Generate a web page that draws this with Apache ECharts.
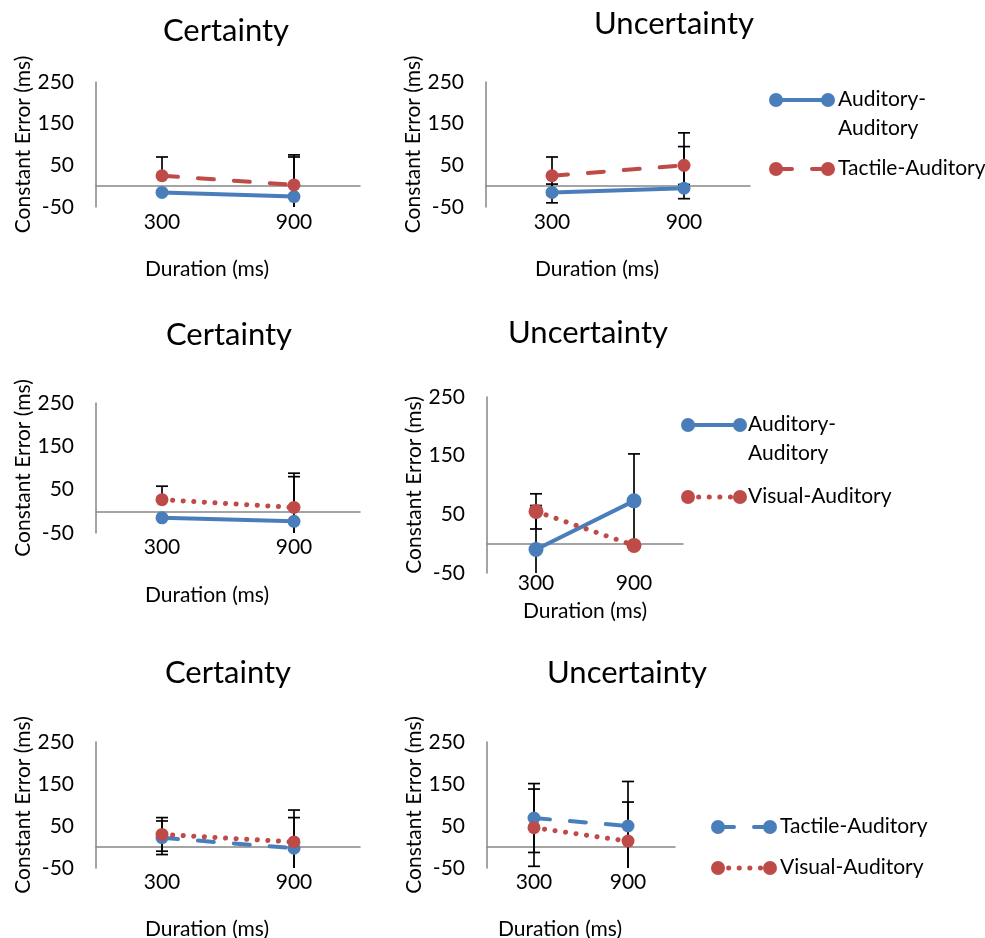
<!DOCTYPE html>
<html>
<head>
<meta charset="utf-8">
<script src="https://cdn.jsdelivr.net/npm/echarts@6/dist/echarts.min.js"></script>
<style>
  html, body { margin: 0; padding: 0; background: #fff; }
  #chart { width: 985px; height: 938px; }
</style>
</head>
<body>
<div id="chart"></div>
<script>
// Durées testées (catégories) et graduations de l'axe Y
const durations = ['300', '900'];
const yTickLabels = [-50, 50, 150, 250];

// Ligne 1 : Auditory-Auditory / Tactile-Auditory
const cert1AA = [-15, -25];
const cert1AAErr = [[-15, -15], [-125, 75]];
const cert1TA = [25, 3];
const cert1TAErr = [[25, 70], [-70, 70]];
const unc1AA = [-15, -5];
const unc1AAErr = [[-40, 5], [-30, 95]];
const unc1TA = [25, 50];
const unc1TAErr = [[-20, 70], [4, 128]];

// Ligne 2 : Auditory-Auditory / Visual-Auditory
const cert2AA = [-15, -23];
const cert2AAErr = [[-15, -15], [-120, 80]];
const cert2VA = [27, 9];
const cert2VAErr = [[27, 58], [-70, 88]];
const unc2AA = [-10, 73];
const unc2AAErr = [[-85, 65], [-7, 153]];
const unc2VA = [55, -3];
const unc2VAErr = [[25, 85], [-3, -3]];

// Ligne 3 : Tactile-Auditory / Visual-Auditory
const cert3TA = [22, -3];
const cert3TAErr = [[-18, 62], [-76, 70]];
const cert3VA = [30, 12];
const cert3VAErr = [[-10, 70], [-64, 88]];
const unc3TA = [69, 50];
const unc3TAErr = [[-13, 151], [-56, 156]];
const unc3VA = [46, 14];
const unc3VAErr = [[-46, 138], [-79, 107]];

const FONT = 'Lato';
const BLUE = '#4a7ebb';
const RED = '#be4b48';
const AXIS = '#868686';

// styles de trait
const solid = { type: 'solid', cap: 'round', width: 4 };
const dashed = { type: [16, 20], cap: 'round', width: 4 };
const dotted = { type: [0.1, 10.5], cap: 'round', width: 5 };

const panels = [
  { title: 'Certainty', tx: 226, ty: 31, grid: { left: 96, top: 82, width: 264, height: 125 }, nameShift: -21, nameGap: 52, labelMargin: 5,
    series: [
      { name: 'Auditory-Auditory', color: BLUE, line: solid, mean: cert1AA, err: cert1AAErr },
      { name: 'Tactile-Auditory', color: RED, line: dashed, mean: cert1TA, err: cert1TAErr }] },
  { title: 'Uncertainty', tx: 674, ty: 24, grid: { left: 486, top: 82, width: 264, height: 125 }, nameShift: -21, nameGap: 52, labelMargin: 5,
    legend: { x: 776, y: [100, 169], textX: 838, labels: ['Auditory-\nAuditory', 'Tactile-Auditory'] },
    series: [
      { name: 'Auditory-Auditory', color: BLUE, line: solid, mean: unc1AA, err: unc1AAErr },
      { name: 'Tactile-Auditory', color: RED, line: dashed, mean: unc1TA, err: unc1TAErr }] },
  { title: 'Certainty', tx: 229, ty: 335, grid: { left: 96, top: 403, width: 264, height: 130 }, nameShift: -21, nameGap: 52, labelMargin: 4,
    series: [
      { name: 'Auditory-Auditory', color: BLUE, line: solid, mean: cert2AA, err: cert2AAErr },
      { name: 'Visual-Auditory', color: RED, line: dotted, mean: cert2VA, err: cert2VAErr }] },
  { title: 'Uncertainty', tx: 588, ty: 333, grid: { left: 487, top: 397, width: 196, height: 176 }, nameShift: 0, nameGap: 28, labelMargin: 0,
    legend: { x: 688, y: [425, 497], textX: 748, labels: ['Auditory-\nAuditory', 'Visual-Auditory'] },
    series: [
      { name: 'Auditory-Auditory', color: BLUE, line: solid, mean: unc2AA, err: unc2AAErr },
      { name: 'Visual-Auditory', color: RED, line: dotted, mean: unc2VA, err: unc2VAErr }] },
  { title: 'Certainty', tx: 228, ty: 673, grid: { left: 96, top: 742, width: 264, height: 126 }, nameShift: -21, nameGap: 51, labelMargin: 4,
    series: [
      { name: 'Tactile-Auditory', color: BLUE, line: dashed, mean: cert3TA, err: cert3TAErr },
      { name: 'Visual-Auditory', color: RED, line: dotted, mean: cert3VA, err: cert3VAErr }] },
  { title: 'Uncertainty', tx: 627, ty: 673, grid: { left: 487, top: 742, width: 188, height: 126 }, nameShift: -21, nameGap: 51, labelMargin: 4,
    legend: { x: 718, y: [827, 868], textX: 780, labels: ['Tactile-Auditory', 'Visual-Auditory'] },
    series: [
      { name: 'Tactile-Auditory', color: BLUE, line: dashed, mean: unc3TA, err: unc3TAErr },
      { name: 'Visual-Auditory', color: RED, line: dotted, mean: unc3VA, err: unc3VAErr }] }
];

// Barres d'erreur : trait vertical + petites barres aux extrémités
function renderErrorBar(params, api) {
  const ci = api.value(0);
  const lo = api.value(1);
  const hi = api.value(2);
  const mean = api.value(3);
  const pHi = api.coord([ci, hi]);
  const pLo = api.coord([ci, lo]);
  const half = 6;
  const style = { stroke: '#000', lineWidth: 1.7 };
  const children = [{ type: 'line', shape: { x1: pHi[0], y1: pHi[1], x2: pLo[0], y2: pLo[1] }, style }];
  if (hi > mean) children.push({ type: 'line', shape: { x1: pHi[0] - half, y1: pHi[1], x2: pHi[0] + half, y2: pHi[1] }, style });
  if (lo < mean) children.push({ type: 'line', shape: { x1: pLo[0] - half, y1: pLo[1], x2: pLo[0] + half, y2: pLo[1] }, style });
  return { type: 'group', children };
}

const grids = [];
const xAxes = [];
const yAxes = [];
const series = [];
const graphics = [];

panels.forEach((p, i) => {
  grids.push(Object.assign({ outerBoundsMode: 'none', containLabel: false }, p.grid));

  // axe des catégories qui croise à 0 (trait seulement)
  xAxes.push({
    type: 'category', gridIndex: i, data: durations, position: 'top',
    axisLine: { show: true, onZero: true, lineStyle: { color: AXIS, width: 1.5 } },
    axisTick: { show: false }, axisLabel: { show: false }, splitLine: { show: false }
  });
  // même axe en bas pour les libellés
  xAxes.push({
    type: 'category', gridIndex: i, data: durations, position: 'bottom',
    axisLine: { show: false, onZero: false }, axisTick: { show: false },
    axisLabel: { color: '#000', fontFamily: FONT, fontSize: 21, margin: p.labelMargin },
    name: 'Duration (ms)', nameLocation: 'middle', nameGap: p.nameGap,
    nameTextStyle: { color: '#000', fontFamily: FONT, fontSize: 21,
      padding: p.nameShift < 0 ? [0, -2 * p.nameShift, 0, 0] : 0 }
  });

  yAxes.push({
    type: 'value', gridIndex: i, min: -50, max: 250, interval: 50,
    axisLine: { show: true, onZero: false, lineStyle: { color: AXIS, width: 1.5 } },
    axisTick: { show: false }, splitLine: { show: false },
    axisLabel: {
      color: '#000', fontFamily: FONT, fontSize: 21, margin: 22, padding: [10, 0, 0, 0],
      formatter: (v) => (yTickLabels.includes(v) ? String(v) : '')
    },
    name: 'Constant Error (ms)', nameLocation: 'middle', nameRotate: 90, nameGap: 61,
    nameTextStyle: { color: '#000', fontFamily: FONT, fontSize: 21 }
  });

  const symSize = i === 3 ? 15 : 13;
  p.series.forEach((s) => {
    series.push({
      type: 'custom', name: s.name + ' err', xAxisIndex: 2 * i, yAxisIndex: i,
      renderItem: renderErrorBar, clip: true, z: 1, silent: true,
      encode: { x: 0, y: [1, 2] },
      data: s.err.map((e, k) => [k, e[0], e[1], s.mean[k]])
    });
  });
  p.series.forEach((s) => {
    series.push({
      type: 'line', name: s.name, xAxisIndex: 2 * i, yAxisIndex: i, z: 3,
      data: s.mean, symbol: 'circle', symbolSize: symSize, showSymbol: true,
      itemStyle: { color: s.color },
      lineStyle: Object.assign({ color: s.color }, s.line)
    });
  });

  graphics.push({
    type: 'text', x: p.tx, y: p.ty,
    style: { text: p.title, fill: '#000', fontFamily: FONT, fontSize: 31, textAlign: 'center', textVerticalAlign: 'middle' }
  });

  if (p.legend) {
    p.series.forEach((s, k) => {
      const y = p.legend.y[k];
      const x1 = p.legend.x;
      const x2 = x1 + 52;
      const lineStyle = { stroke: s.color, lineWidth: s.line.width, lineCap: 'round',
        lineDash: Array.isArray(s.line.type) ? s.line.type : null };
      graphics.push({ type: 'line', shape: { x1, y1: y, x2, y2: y }, style: lineStyle });
      graphics.push({ type: 'circle', shape: { cx: x1, cy: y, r: 7 }, style: { fill: s.color } });
      graphics.push({ type: 'circle', shape: { cx: x2, cy: y, r: 7 }, style: { fill: s.color } });
      const label = p.legend.labels[k];
      graphics.push({
        type: 'text', x: p.legend.textX, y: y - 15,
        style: { text: label, fill: '#000', fontFamily: FONT, fontSize: 21, lineHeight: 29, textAlign: 'left', textVerticalAlign: 'top' }
      });
    });
  }
});

const chart = echarts.init(document.getElementById('chart'), null, { renderer: 'canvas' });
chart.setOption({
  animation: false,
  backgroundColor: '#fff',
  textStyle: { fontFamily: FONT },
  grid: grids,
  xAxis: xAxes,
  yAxis: yAxes,
  series: series,
  graphic: graphics
});

window.addEventListener('resize', () => chart.resize());
</script>
</body>
</html>
